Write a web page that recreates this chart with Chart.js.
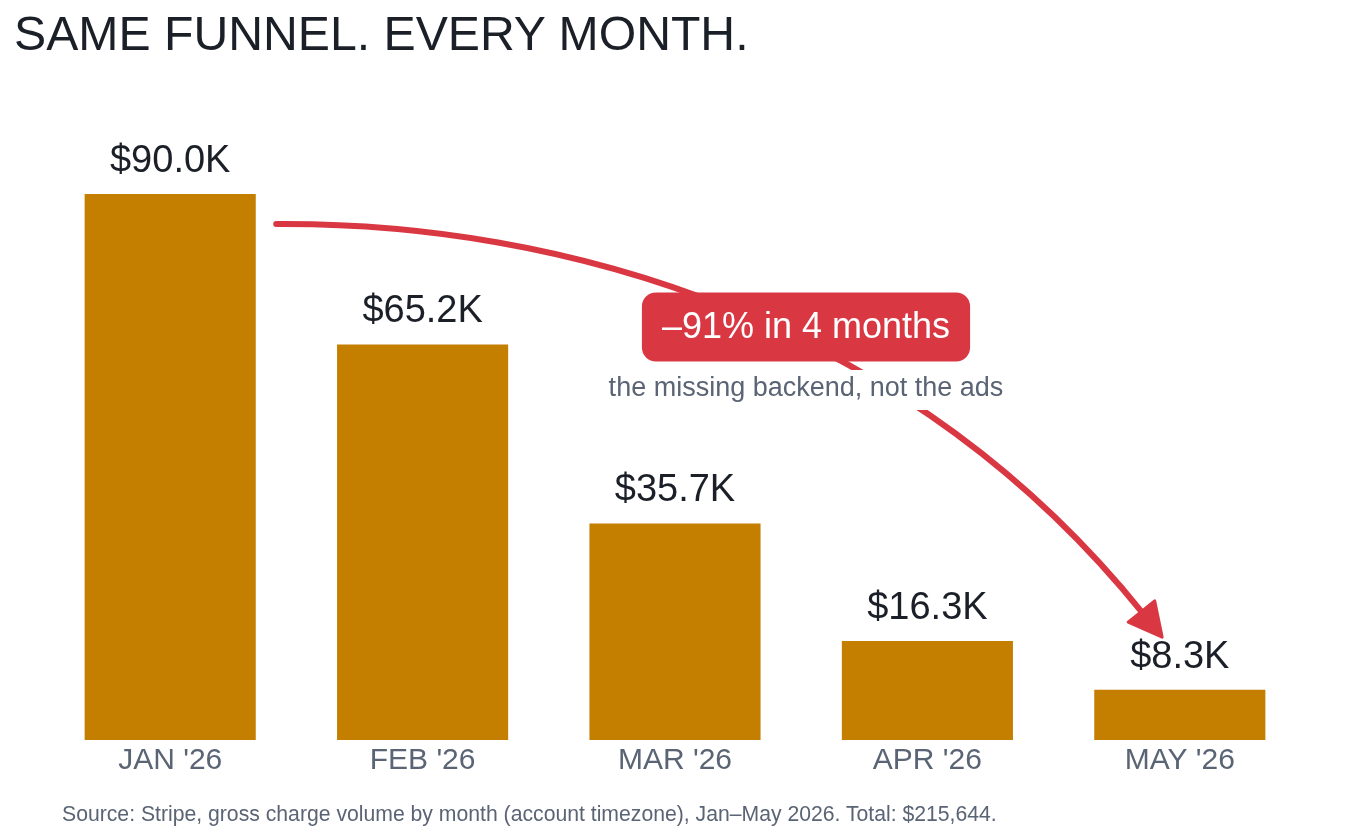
<!DOCTYPE html>
<html>
<head>
<meta charset="utf-8">
<script src="https://cdn.jsdelivr.net/npm/chart.js@4"></script>
<style>
  html, body { margin:0; padding:0; background:#fff; }
  body { width:1350px; height:838px; position:relative; overflow:hidden; font-family:"Liberation Sans", Arial, sans-serif; }
  #title { position:absolute; left:14px; top:9px; font-size:48.2px; line-height:1; color:#1b1f27; white-space:nowrap; }
  #source { position:absolute; left:62px; top:803px; font-size:21.2px; line-height:1; color:#5a6474; white-space:nowrap; }
  #wrap { position:absolute; left:0; top:0; width:1350px; height:838px; }
</style>
</head>
<body>
<div id="wrap"><canvas id="c" width="1350" height="838"></canvas></div>
<div id="title">SAME FUNNEL. EVERY MONTH.</div>
<div id="source">Source: Stripe, gross charge volume by month (account timezone), Jan–May 2026. Total: $215,644.</div>
<script>
const categories = ["JAN '26", "FEB '26", "MAR '26", "APR '26", "MAY '26"];
const revenueK = [90.0, 65.2, 35.7, 16.3, 8.3];
const valueLabels = ["$90.0K", "$65.2K", "$35.7K", "$16.3K", "$8.3K"];
const badgeText = "\u201391% in 4 months";
const badgeSub = "the missing backend, not the ads";

const FONT = '"Liberation Sans", Arial, sans-serif';
const RED = '#d93843';

const overlay = {
  id: 'overlay',
  afterDatasetsDraw(chart) {
    const ctx = chart.ctx;
    const xs = chart.scales.x, ys = chart.scales.y;
    const meta = chart.getDatasetMeta(0);
    // value labels
    ctx.save();
    ctx.font = '38px ' + FONT;
    ctx.fillStyle = '#1b1f27';
    ctx.textAlign = 'center';
    ctx.textBaseline = 'alphabetic';
    meta.data.forEach((bar, i) => {
      ctx.fillText(valueLabels[i], bar.x, bar.y - 22);
    });
    ctx.restore();

    // arrow (curve from Jan toward May)
    const P = (ix, v) => [xs.getPixelForValue(ix), ys.getPixelForValue(v)];
    const p0 = P(0.42, 85.05), p1 = P(1.545, 85.4), p2 = P(2.911, 69.56), p3 = P(3.853, 20.93);
    ctx.save();
    ctx.strokeStyle = RED;
    ctx.fillStyle = RED;
    ctx.lineWidth = 6;
    ctx.lineCap = 'round';
    ctx.beginPath();
    ctx.moveTo(p0[0], p0[1]);
    ctx.bezierCurveTo(p1[0], p1[1], p2[0], p2[1], p3[0], p3[1]);
    ctx.stroke();
    let dx = p3[0] - p2[0], dy = p3[1] - p2[1];
    const len = Math.hypot(dx, dy); dx /= len; dy /= len;
    const headL = 31, headW = 17;
    const tip = [p3[0] + dx * headL, p3[1] + dy * headL];
    const base = [p3[0] - dx * 2, p3[1] - dy * 2];
    ctx.beginPath();
    ctx.moveTo(tip[0], tip[1]);
    ctx.lineTo(base[0] - dy * headW, base[1] + dx * headW);
    ctx.lineTo(base[0] + dy * headW, base[1] - dx * headW);
    ctx.closePath();
    ctx.lineJoin = 'round';
    ctx.lineWidth = 3;
    ctx.fill();
    ctx.stroke();
    ctx.restore();

    // badge
    const c = P(2.519, 68.08);
    ctx.save();
    ctx.font = '36px ' + FONT;
    const tw = ctx.measureText(badgeText).width;
    const bw = tw + 40, bh = 69;
    const bx = c[0] - bw / 2, by = c[1] - bh / 2;
    ctx.fillStyle = RED;
    ctx.beginPath();
    ctx.roundRect(bx, by, bw, bh, 14);
    ctx.fill();
    ctx.fillStyle = '#ffffff';
    ctx.textAlign = 'center';
    ctx.textBaseline = 'middle';
    ctx.fillText(badgeText, c[0], c[1] + 1);
    // subtitle with white backing
    const s = P(2.519, 57.86);
    ctx.font = '27px ' + FONT;
    const sw = ctx.measureText(badgeSub).width;
    ctx.fillStyle = '#ffffff';
    ctx.fillRect(s[0] - sw / 2 - 8, s[1] - 19, sw + 16, 40);
    ctx.fillStyle = '#5a6474';
    ctx.fillText(badgeSub, s[0], s[1]);
    ctx.restore();
  }
};

new Chart(document.getElementById('c'), {
  type: 'bar',
  data: {
    labels: categories,
    datasets: [{
      data: revenueK,
      backgroundColor: '#c47f00',
      borderWidth: 0,
      categoryPercentage: 1.0,
      barPercentage: 0.678
    }]
  },
  options: {
    responsive: false,
    animation: false,
    devicePixelRatio: 1,
    layout: { padding: { left: 44, right: 44, top: 120, bottom: 0 } },
    plugins: { legend: { display: false }, tooltip: { enabled: false }, title: { display: false } },
    scales: {
      x: {
        grid: { display: false, drawTicks: false },
        border: { display: false },
        ticks: { color: '#5a6474', font: { family: FONT, size: 30 }, padding: 3 },
        afterFit: (s) => { s.height = 98; }
      },
      y: {
        display: false,
        min: 0,
        max: 102.2
      }
    }
  },
  plugins: [overlay]
});
</script>
</body>
</html>
